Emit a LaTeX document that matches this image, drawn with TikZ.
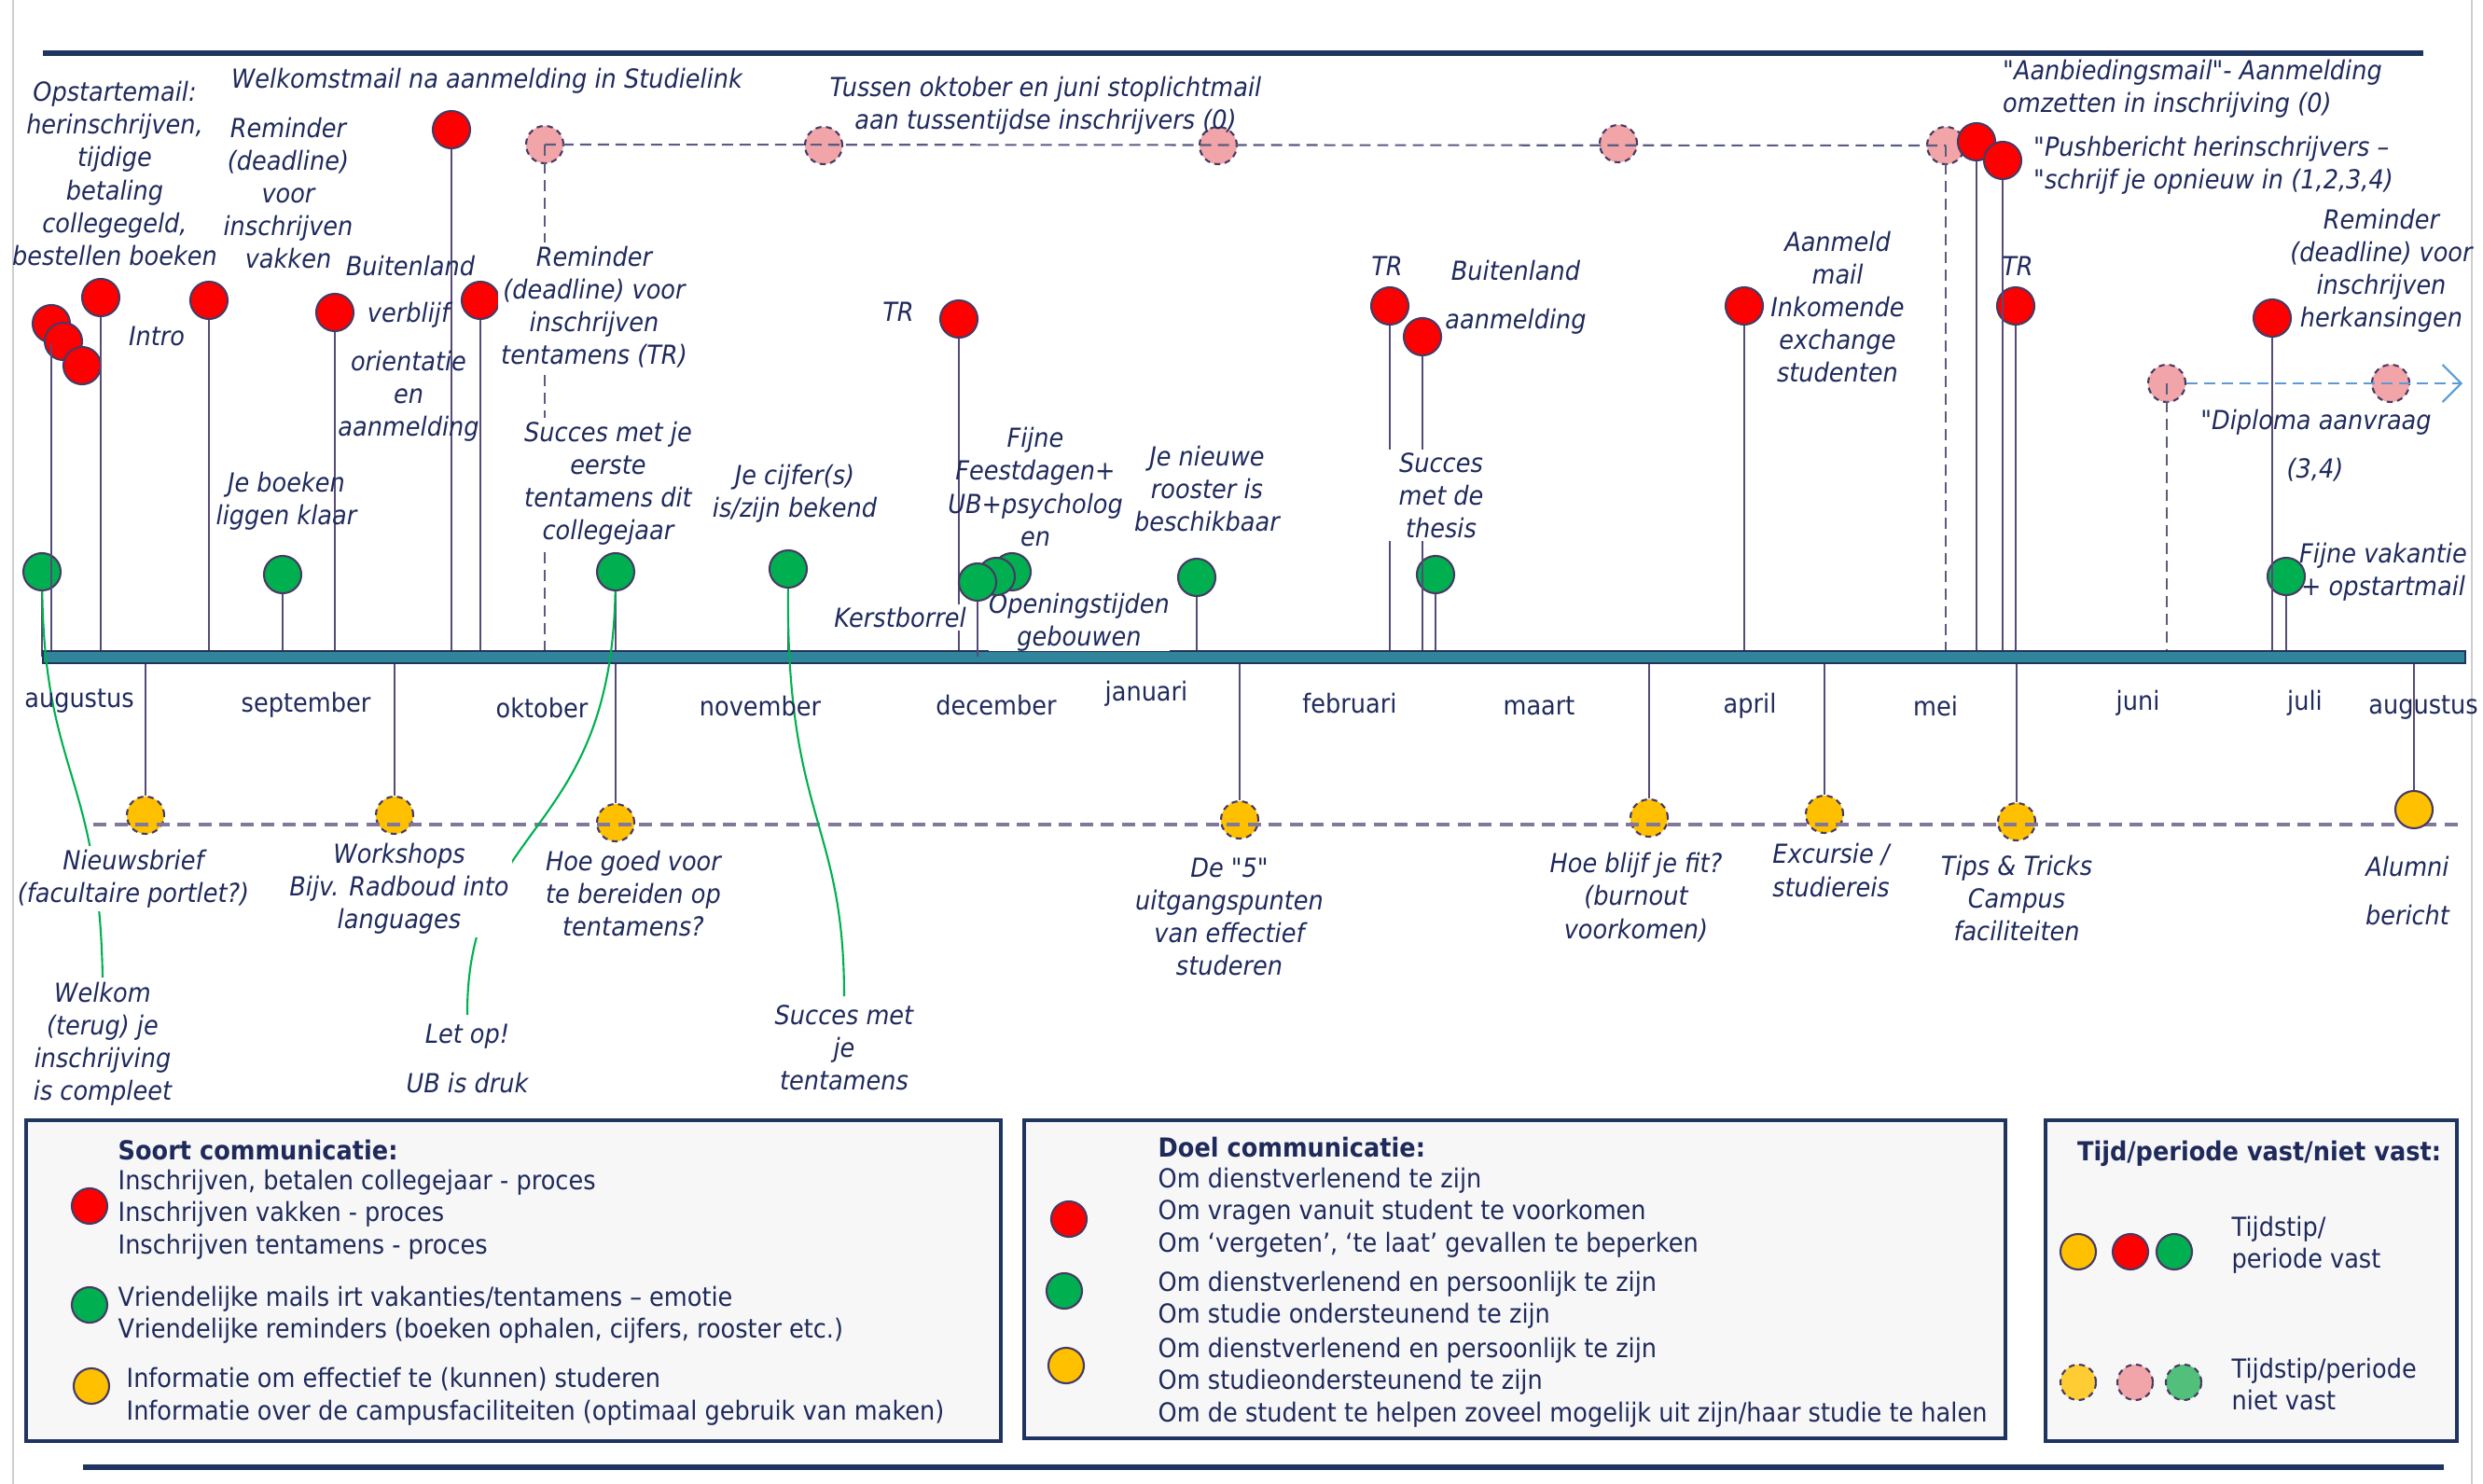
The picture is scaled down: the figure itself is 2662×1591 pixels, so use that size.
\documentclass[tikz,border=0pt]{standalone}
\usepackage{fontspec}
\setmainfont[FakeStretch=0.91, Ligatures=TeXOff]{DejaVu Sans}
\usepackage{xcolor}
\usepackage{tikz}
\usetikzlibrary{arrows.meta}

\definecolor{navy}{RGB}{31,42,92}
\definecolor{framec}{RGB}{31,52,96}
\definecolor{stemc}{RGB}{86,74,120}
\definecolor{ringc}{RGB}{70,58,100}
\definecolor{barc}{RGB}{49,133,155}
\definecolor{redc}{RGB}{255,0,0}
\definecolor{greenc}{RGB}{0,176,80}
\definecolor{yellowc}{RGB}{255,192,0}
\definecolor{pinkc}{RGB}{242,165,168}
\definecolor{lgreenc}{RGB}{82,192,122}
\definecolor{lyellowc}{RGB}{255,204,51}
\definecolor{dashc}{RGB}{88,92,128}
\definecolor{lowdashc}{RGB}{130,120,155}
\definecolor{bluec}{RGB}{91,155,213}
\definecolor{legfill}{RGB}{247,247,247}
\definecolor{edgec}{RGB}{205,205,210}

\tikzset{
	ball/.style={circle, minimum size=4mm, inner sep=0pt, draw=ringc, line width=0.6pt},
	redball/.style={ball, fill=redc},
	greenball/.style={ball, fill=greenc},
	yellowball/.style={ball, fill=yellowc},
	looseline/.style={dash pattern=on 1.8pt off 1.4pt},
	pinkball/.style={ball, looseline, fill=pinkc},
	yellowloose/.style={ball, looseline, fill=yellowc},
	legball/.style={circle, minimum size=3.8mm, inner sep=0pt, draw=ringc, line width=0.6pt},
	stem/.style={draw=stemc, line width=0.7pt},
	pinkdash/.style={draw=dashc, line width=0.6pt, dash pattern=on 3.4pt off 2pt},
	lowdash/.style={draw=lowdashc, line width=0.9pt, dash pattern=on 4pt off 2.4pt},
	gline/.style={draw=greenc, line width=0.6pt},
	lbl/.style={font=\fontsize{8}{10}\selectfont\itshape, text=navy, align=center, inner sep=1pt},
	cover/.style={fill=white},
	month/.style={font=\fontsize{8}{10}\selectfont, text=navy, inner sep=1pt},
	legtxt/.style={font=\fontsize{8}{9.8}\selectfont, text=navy, align=left, anchor=west, inner sep=0pt},
	legtitle/.style={legtxt, font=\fontsize{8}{9.8}\selectfont\bfseries}
}

\begin{document}
\begin{tikzpicture}[x=0.01cm, y=-0.01cm]
	\useasboundingbox (0,0) rectangle (2662,1591);
	
	% Page edges and frame lines
	\draw[edgec, line width=0.6pt] (14,0) -- (14,1591);
	\draw[edgec, line width=0.6pt] (2650,0) -- (2650,1591);
	\draw[framec, line width=1.5pt] (46,57) -- (2598,57);
	\draw[framec, line width=1.5pt] (89,1573) -- (2620,1573);
	
	% Timeline
	\coordinate (tl) at (46,704);
	
	% Red circles above the timeline
	\node[redball] (ra) at (55,347) {};
	\node[redball] (rb) at (68,366) {};
	\node[redball] (rc) at (88,392) {};
	\node[redball] (rd) at (108,319) {};
	\node[redball] (re) at (224,322) {};
	\node[redball] (rf) at (484,139) {};
	\node[redball] (rg) at (359,335) {};
	\node[redball] (rh) at (515,322) {};
	\node[redball] (ri) at (1028,342) {};
	\node[redball] (rj) at (1490,328) {};
	\node[redball] (rk) at (1525,361) {};
	\node[redball] (rl) at (1870,328) {};
	\node[pinkball] (pe) at (2086,156) {};
	\node[redball] (rm) at (2119,152) {};
	\node[redball] (rn) at (2147,172) {};
	\node[redball] (ro) at (2161,328) {};
	\node[redball] (rp) at (2436,341) {};
	
	% Pink circles (not fixed)
	\node[pinkball] (pa) at (584,155) {};
	\node[pinkball] (pb) at (883,156) {};
	\node[pinkball] (pc) at (1306,156) {};
	\node[pinkball] (pd) at (1735,154) {};
	\node[pinkball] (pf) at (2323,411) {};
	\node[pinkball] (pg) at (2563,411) {};
	
	% Green circles
	\node[greenball] (ga) at (45,613) {};
	\node[greenball] (gb) at (303,616) {};
	\node[greenball] (gc) at (660,613) {};
	\node[greenball] (gd) at (845,610) {};
	\node[greenball] (gf) at (1283,619) {};
	\node[greenball] (gg) at (1539,616) {};
	\node[greenball] (gh) at (2451,618) {};
	
	% Yellow circles below the timeline
	\node[yellowloose] (ya) at (156,874) {};
	\node[yellowloose] (yb) at (423,874) {};
	\node[yellowloose] (yc) at (660,882) {};
	\node[yellowloose] (yd) at (1329,879) {};
	\node[yellowloose] (ye) at (1768,877) {};
	\node[yellowloose] (yf) at (1956,873) {};
	\node[yellowloose] (yg) at (2162,881) {};
	
	% Stems
	\draw[stem] (ra) -- (ra |- tl);
	\draw[stem] (rd) -- (rd |- tl);
	\draw[stem] (re) -- (re |- tl);
	\draw[stem] (rf) -- (rf |- tl);
	\draw[stem] (rg) -- (rg |- tl);
	\draw[stem] (rh) -- (rh |- tl);
	\draw[stem] (ri) -- (ri |- tl);
	\draw[stem] (rj) -- (rj |- tl);
	\draw[stem] (rk) -- (rk |- tl);
	\draw[stem] (rl) -- (rl |- tl);
	\draw[stem] (rm) -- (rm |- tl);
	\draw[stem] (rn) -- (rn |- tl);
	\draw[stem] (ro) -- (ro |- tl);
	\draw[stem] (rp) -- (rp |- tl);
	\draw[stem] (ga) -- (ga |- tl);
	\draw[stem] (gb) -- (gb |- tl);
	\draw[stem] (gc) -- (gc |- tl);
	\draw[stem] (gd) -- (gd |- tl);
	\draw[stem] (gf) -- (gf |- tl);
	\draw[stem] (gg) -- (gg |- tl);
	\draw[stem] (gh) -- (gh |- tl);
	\draw[stem] (ya) -- (ya |- tl);
	\draw[stem] (yb) -- (yb |- tl);
	\draw[stem] (yc) -- (yc |- tl);
	\draw[stem] (yd) -- (yd |- tl);
	\draw[stem] (ye) -- (ye |- tl);
	\draw[stem] (yf) -- (yf |- tl);
	\draw[stem] (yg) -- (yg |- tl);
	
	% Dashed links of the pink circles
	\draw[pinkdash] (pa.center) -- (pe.center);
	\draw[pinkdash] (pa.center) -- (pa |- tl);
	\draw[pinkdash] (pe.center) -- (pe |- tl);
	\draw[pinkdash] (pf.center) -- (pf |- tl);
	\coordinate (diplend) at (2640,411);
	\draw[bluec, line width=0.6pt, dash pattern=on 3.4pt off 2pt, -{Straight Barb[length=2mm, width=4mm]}] (pf) -- (diplend);
	
	% Dashed line of the yellow circles
	\coordinate (lowa) at (100,884);
	\coordinate (lowb) at (2637,884);
	\draw[lowdash] (lowa) -- (lowb);
	\node[yellowball] (yh) at (2588,868) {};
	\draw[stem] (yh) -- (yh |- tl);
	
	% Timeline bar
	\draw[framec, fill=barc, line width=0.5pt] (46,698) rectangle (2643,711);
	
	% Green connectors
	\draw[gline] (ga) .. controls (48,830) and (106,830) .. (110,1048);
	\draw[gline] (gd) .. controls (843,880) and (905,880) .. (905,1068);
	\draw[gline] (gc) .. controls (655,900) and (500,880) .. (501,1088);
	
	% Months
	\node[month] (maug) at (85,752) {augustus};
	\node[month] (msep) at (328,756) {september};
	\node[month] (mokt) at (581,759) {oktober};
	\node[month] (mnov) at (815,757) {november};
	\node[month] (mdec) at (1068,756) {december};
	\node[month] (mjan) at (1229,744) {januari};
	\node[month] (mfeb) at (1447,754) {februari};
	\node[month] (mmrt) at (1650,757) {maart};
	\node[month] (mapr) at (1876,757) {april};
	\node[month] (mmei) at (2075,757) {mei};
	\node[month] (mjun) at (2292,754) {juni};
	\node[month] (mjul) at (2471,754) {juli};
	\node[month] (maugb) at (2598,759) {augustus};
	
	% Labels above the timeline
	\node[lbl] (opst) at (123,186) {Opstartemail:\\herinschrijven,\\tijdige\\betaling\\collegegeld,\\bestellen boeken};
	\node[lbl] (welk) at (522,87) {Welkomstmail na aanmelding in Studielink};
	\node[lbl] (remv) at (309,207) {Reminder\\(deadline)\\voor\\inschrijven\\vakken};
	\node[lbl] (intro) at (168,360) {Intro};
	\node[lbl] (buit) at (440,285) {Buitenland};
	\node[lbl] (verbl) at (438,338) {verblijf};
	\node[lbl] (orien) at (438,425) {orientatie\\en\\aanmelding};
	\node[lbl, cover] (remt) at (637,329) {Reminder\\(deadline) voor\\inschrijven\\tentamens (TR)};
	\node[lbl, cover] (succa) at (652,518) {Succes met je\\eerste\\tentamens dit\\collegejaar};
	\node[lbl] (boek) at (307,537) {Je boeken\\liggen klaar};
	\node[lbl] (cijf) at (852,529) {Je cijfer(s)\\is/zijn bekend};
	\node[lbl] (stop) at (1121,113) {Tussen oktober en juni stoplichtmail\\aan tussentijdse inschrijvers (0)};
	\node[lbl] (tra) at (963,334) {TR};
	\node[lbl] (fijn) at (1110,522) {Fijne\\Feestdagen+\\UB+psycholog\\en};
	\node[lbl, cover] (kerst) at (965,662) {Kerstborrel};
	\node[lbl, cover, inner sep=0pt] (open) at (1157,667) {Openingstijden\\gebouwen};
	\node[lbl] (roos) at (1294,524) {Je nieuwe\\rooster is\\beschikbaar};
	\node[lbl] (trb) at (1487,285) {TR};
	\node[lbl] (buitb) at (1625,290) {Buitenland};
	\node[lbl] (aanmb) at (1625,345) {aanmelding};
	\node[lbl, cover, inner xsep=4pt] (thes) at (1545,531) {Succes\\met de\\thesis};
	\node[lbl] (aanm) at (1970,329) {Aanmeld\\mail\\Inkomende\\exchange\\studenten};
	\node[lbl, align=left, anchor=west] (aanb) at (2143,95) {"Aanbiedingsmail"- Aanmelding\\omzetten in inschrijving (0)};
	\node[lbl, align=left, anchor=west] (push) at (2176,177) {"Pushbericht herinschrijvers –\\"schrijf je opnieuw in (1,2,3,4)};
	\node[lbl] (trc) at (2163,285) {TR};
	\node[lbl] (remh) at (2553,290) {Reminder\\(deadline) voor\\inschrijven\\herkansingen};
	\node[lbl] (dipl) at (2483,453) {"Diploma aanvraag};
	\node[lbl] (dipln) at (2482,504) {(3,4)};
	\node[lbl] (vak) at (2555,613) {Fijne vakantie\\+ opstartmail};
	
	% Labels below the timeline
	\node[lbl, cover] (nieuws) at (143,942) {Nieuwsbrief\\(facultaire portlet?)};
	\node[lbl, cover] (work) at (428,953) {Workshops\\Bijv. Radboud into\\languages};
	\node[lbl] (hoe) at (679,958) {Hoe goed voor\\te bereiden op\\tentamens?};
	\node[lbl] (welkom) at (110,1119) {Welkom\\(terug) je\\inschrijving\\is compleet};
	\node[lbl] (letop) at (501,1135) {Let op!\\[5pt]UB is druk};
	\node[lbl] (succb) at (905,1123) {Succes met\\je\\tentamens};
	\node[lbl] (vijf) at (1318,983) {De "5"\\uitgangspunten\\van effectief\\studeren};
	\node[lbl] (fit) at (1754,962) {Hoe blijf je fit?\\(burnout\\voorkomen)};
	\node[lbl] (exc) at (1963,933) {Excursie /\\studiereis};
	\node[lbl] (tips) at (2162,963) {Tips \& Tricks\\Campus\\faciliteiten};
	\node[lbl] (alum) at (2581,955) {Alumni\\[5pt]bericht};
	
	% Green circles around the holidays
	\node[greenball] (gec) at (1085,613) {};
	\node[greenball] (geb) at (1068,618) {};
	\node[greenball] (gea) at (1048,624) {};
	\draw[stem] (gea) -- (gea |- tl);
	
	% Legend: kind of communication
	\draw[framec, fill=legfill, line width=1pt] (28,1201) rectangle (1073,1545);
	\node[legtitle] (soort) at (126,1233) {Soort communicatie:};
	\node[legtxt] (soortr) at (126,1302) {Inschrijven, betalen collegejaar - proces\\Inschrijven vakken - proces\\Inschrijven tentamens - proces};
	\node[legtxt] (soortg) at (126,1410) {Vriendelijke mails irt vakanties/tentamens – emotie\\Vriendelijke reminders (boeken ophalen, cijfers, rooster etc.)};
	\node[legtxt] (soorty) at (135,1497) {Informatie om effectief te (kunnen) studeren\\Informatie over de campusfaciliteiten (optimaal gebruik van maken)};
	\node[legball, fill=redc] (lra) at (96,1293) {};
	\node[legball, fill=greenc] (lga) at (96,1399) {};
	\node[legball, fill=yellowc] (lya) at (98,1486) {};
	
	% Legend: goal of communication
	\draw[framec, fill=legfill, line width=1pt] (1098,1201) rectangle (2150,1542);
	\node[legtitle] (doel) at (1241,1230) {Doel communicatie:};
	\node[legtxt] (doelr) at (1241,1300) {Om dienstverlenend te zijn\\Om vragen vanuit student te voorkomen\\Om ‘vergeten’, ‘te laat’ gevallen te beperken};
	\node[legtxt] (doelg) at (1241,1394) {Om dienstverlenend en persoonlijk te zijn\\Om studie ondersteunend te zijn};
	\node[legtxt] (doely) at (1241,1482) {Om dienstverlenend en persoonlijk te zijn\\Om studieondersteunend te zijn\\Om de student te helpen zoveel mogelijk uit zijn/haar studie te halen};
	\node[legball, fill=redc] (lrb) at (1146,1307) {};
	\node[legball, fill=greenc] (lgb) at (1141,1384) {};
	\node[legball, fill=yellowc] (lyb) at (1143,1464) {};
	
	% Legend: fixed or not fixed
	\draw[framec, fill=legfill, line width=1pt] (2193,1201) rectangle (2634,1545);
	\node[legtitle, anchor=center] (tijd) at (2422,1237) {Tijd/periode vast/niet vast:};
	\node[legball, fill=yellowc] (lyc) at (2228,1342) {};
	\node[legball, fill=redc] (lrc) at (2284,1342) {};
	\node[legball, fill=greenc] (lgc) at (2331,1342) {};
	\node[legtxt] (vast) at (2392,1335) {Tijdstip/\\periode vast};
	\node[legball, looseline, fill=lyellowc] (lyd) at (2228,1482) {};
	\node[legball, looseline, fill=pinkc] (lrd) at (2289,1482) {};
	\node[legball, looseline, fill=lgreenc] (lgd) at (2341,1482) {};
	\node[legtxt] (nvast) at (2392,1484) {Tijdstip/periode\\niet vast};
	
\end{tikzpicture}
\end{document}
